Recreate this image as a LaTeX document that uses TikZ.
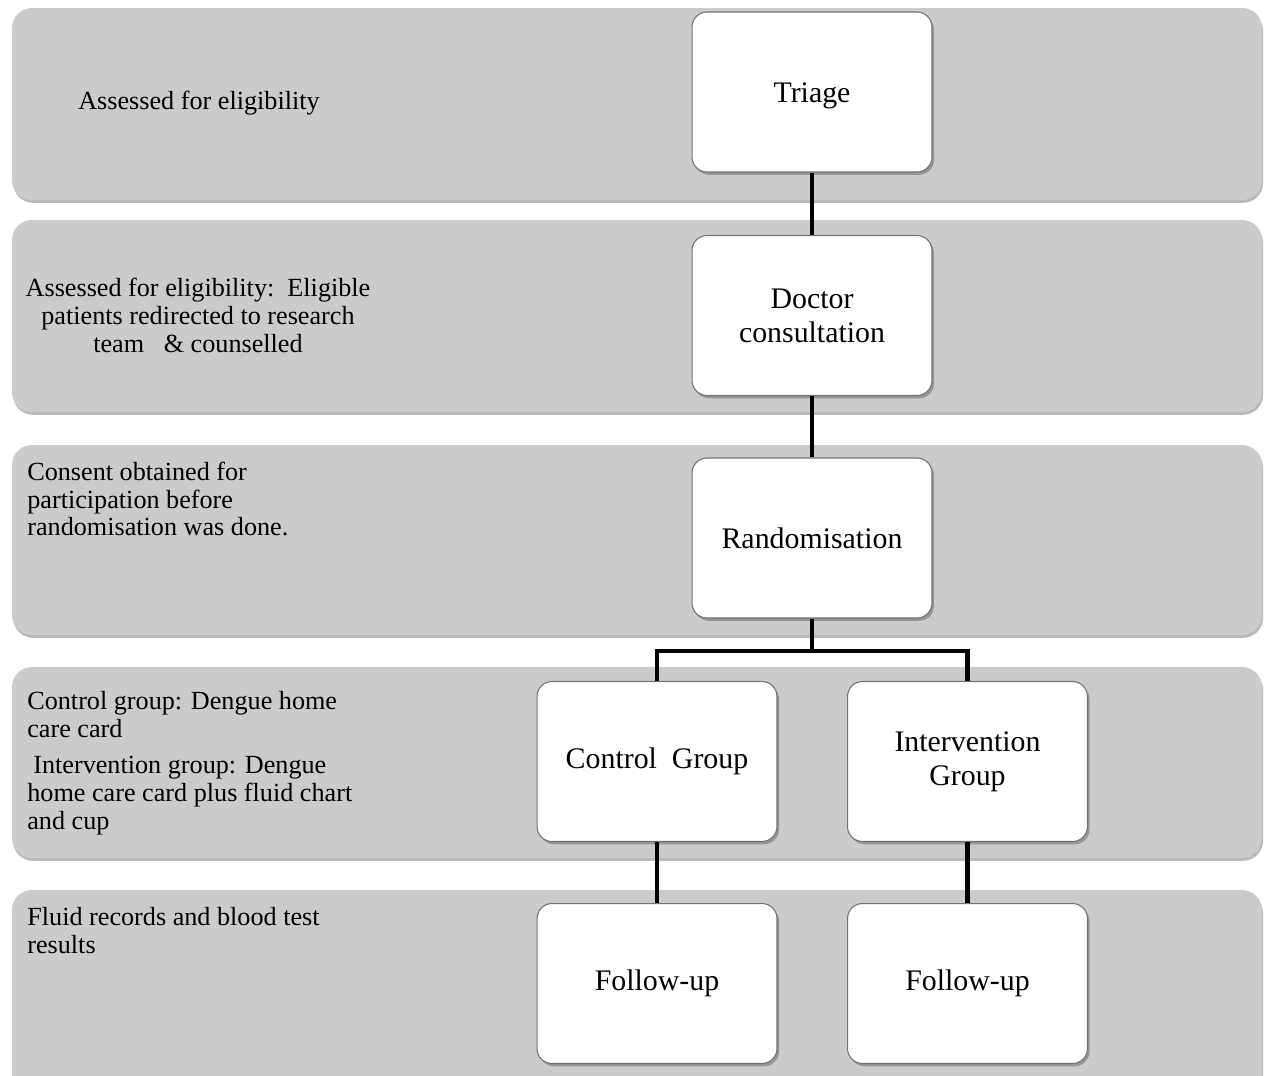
\documentclass[tikz,border=0pt]{standalone}
\usepackage{fontspec}
\setmainfont{Liberation Serif}
\usetikzlibrary{shadows}
\definecolor{bandgray}{RGB}{203,203,203}
\begin{document}
\begin{tikzpicture}[x=0.02cm,y=-0.02cm,
  band/.style={fill=bandgray, rounded corners=0.4cm,
    drop shadow={shadow xshift=0.6pt, shadow yshift=-1.6pt, fill=black!50, opacity=0.55}},
  stage/.style={draw=black!55, line width=0.6pt, fill=white, rounded corners=0.3cm,
    minimum width=4.8cm, minimum height=3.2cm, align=center,
    font=\fontsize{17}{19.3}\selectfont, inner sep=2pt,
    drop shadow={shadow xshift=1.2pt, shadow yshift=-1.6pt, fill=black!55, opacity=0.6}},
  note/.style={font=\fontsize{14.9}{15.9}\selectfont, inner sep=0pt, align=left},
  link/.style={line width=2.8pt, draw=black}]
\clip (0,0) rectangle (1269,1076);
\fill[white] (0,0) rectangle (1269,1076);
% bands
\fill[band] (12,8) rectangle (1262,200);
\fill[band] (12,220) rectangle (1262,412);
\fill[band] (12,445) rectangle (1262,635);
\fill[band] (12,667) rectangle (1262,858);
\fill[band] (12,890) rectangle (1262,1120);
% left notes
\node[note, align=center] (n1) at (199,103) {Assessed for eligibility};
\node[note, align=center] (n2) at (198,315) {Assessed for eligibility:\ \ Eligible\\patients redirected to research\\team \ \ \& counselled};
\node[note, anchor=west] (n3) at (27,499) {Consent obtained for\\participation before\\randomisation was done.};
\node[note, anchor=west] (n4a) at (27,715) {Control group: Dengue home\\care card};
\node[note, anchor=west] (n4b) at (27,796) {\hspace*{0.12cm}Intervention group: Dengue\\home care card plus fluid chart\\and cup};
\node[note, anchor=west] (n5) at (27,931) {Fluid records and blood test\\results};
% stage boxes
\node[stage] (triage) at (812,92) {\raisebox{-0.08cm}[\height][\depth]{Triage}};
\node[stage] (doctor) at (812,315.5) {Doctor\\consultation};
\node[stage] (rand) at (812,538) {Randomisation};
\node[stage] (ctrl) at (657,761.5) {Control\ \ Group};
\node[stage] (intv) at (967.5,761.5) {Intervention\\Group};
\node[stage] (fu1) at (657,983.5) {Follow-up};
\node[stage] (fu2) at (967.5,983.5) {Follow-up};
\coordinate (split) at (812,651);
% connectors
\draw[link] (triage.south) -- (doctor.north);
\draw[link] (doctor.south) -- (rand.north);
\draw[link] (rand.south) -- (split);
\draw[link] (split) -| (ctrl.north);
\draw[link] (split) -| (intv.north);
\draw[link] (ctrl.south) -- (fu1.north);
\draw[link] (intv.south) -- (fu2.north);
\end{tikzpicture}
\end{document}
